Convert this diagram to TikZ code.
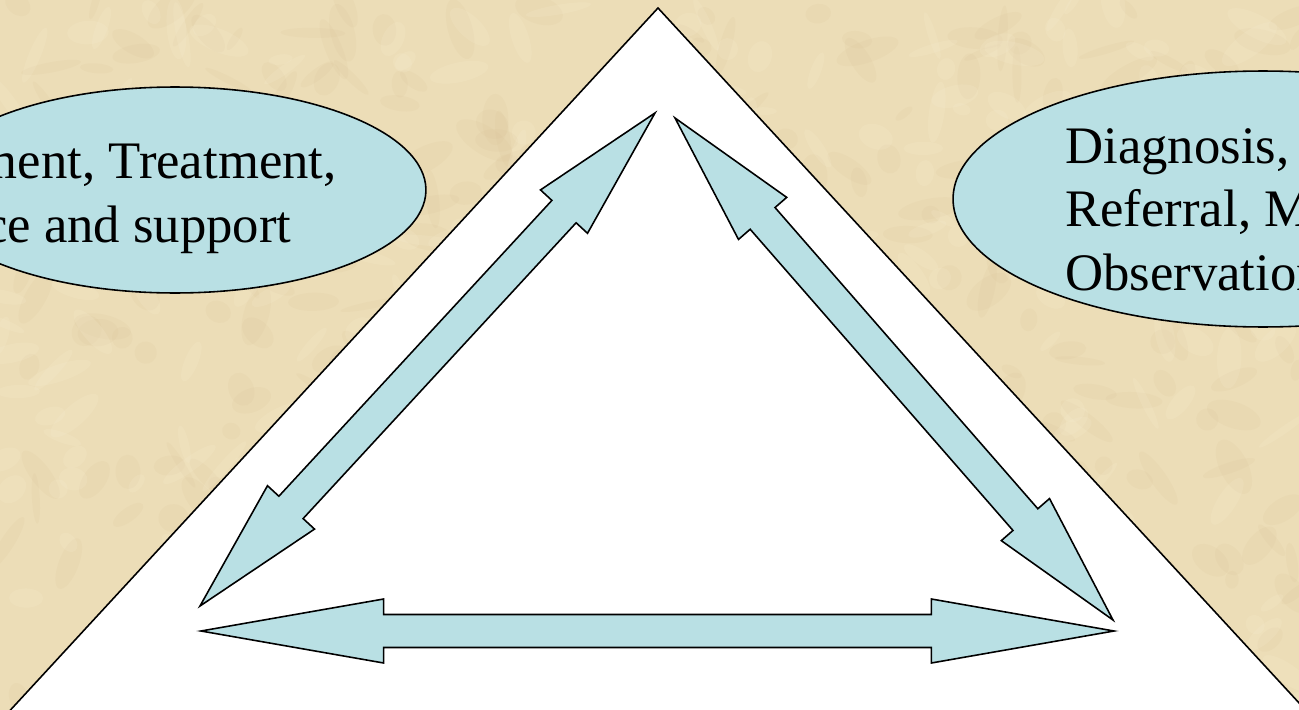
\documentclass[tikz,border=0pt]{standalone}
\usepackage{fontspec}
\setmainfont{Liberation Serif}
\usetikzlibrary{calc, shapes.geometric}

\definecolor{paper}{RGB}{236,221,183}
\definecolor{paperdark}{RGB}{214,190,146}
\definecolor{paperlight}{RGB}{248,238,210}
\definecolor{pale}{RGB}{185,224,228}

\tikzset{
  twoway/.style={draw=black, line width=0.9pt, fill=pale},
  bubble/.style={draw=black, line width=0.9pt, fill=pale, ellipse, inner sep=0pt},
  bubbletext/.style={font=\fontsize{30}{36}\selectfont, inner sep=0pt}
}

\begin{document}
\begin{tikzpicture}[x=0.02cm, y=-0.02cm]
  \def\hw{0.64cm} % half width of a head
  \def\sw{0.33cm} % half width of a shaft
  \useasboundingbox (0,0) rectangle (1299,710);
  \clip (0,0) rectangle (1299,710);
  % parchment
  \fill[paper] (0,0) rectangle (1299,710);
  \pgfmathsetseed{42}
  \foreach \i in {1,...,400} {
    \pgfmathsetmacro\px{rnd*1299}
    \pgfmathsetmacro\py{rnd*710}
    \pgfmathsetmacro\rx{5+rnd*14}
    \pgfmathsetmacro\ry{2+rnd*6}
    \pgfmathsetmacro\ang{rnd*180}
    \fill[paperdark, opacity=0.12, rotate around={\ang:(\px,\py)}] (\px,\py) ellipse ({\rx pt} and {\ry pt});
  }
  \foreach \i in {1,...,300} {
    \pgfmathsetmacro\px{rnd*1299}
    \pgfmathsetmacro\py{rnd*710}
    \pgfmathsetmacro\rx{5+rnd*14}
    \pgfmathsetmacro\ry{2+rnd*5}
    \pgfmathsetmacro\ang{rnd*180}
    \fill[paperlight, opacity=0.18, rotate around={\ang:(\px,\py)}] (\px,\py) ellipse ({\rx pt} and {\ry pt});
  }
  % big triangle
  \coordinate (apex) at (658,8);
  \draw[line width=0.9pt, fill=white] (apex) -- (-8,730) -- (1324,730) -- cycle;
  % bubbles
  \node[bubble, minimum width=10.04cm, minimum height=4.12cm] (care) at (175,190) {};
  \node[bubbletext, align=center, anchor=base] (caretext) at (85,242) {Assessment, Treatment,\\Advice and support};
  \node[bubble, minimum width=12.4cm, minimum height=5.12cm] (diag) at (1263,199) {};
  \node[bubbletext, align=left, anchor=base west] (diagtext) at (1065,290) {Diagnosis,\\Referral, Monitoring\\Observation};
  % double arrows
  \coordinate (lt) at (655,113);
  \coordinate (lb) at (200,606);
  \coordinate (rt) at (675,118);
  \coordinate (rb) at (1113,620);
  \coordinate (bl) at (201,631);
  \coordinate (br) at (1114,631);
  \foreach \s/\e in {lt/lb, rt/rb, bl/br}
    \draw[twoway] (\s) -- ($(\s)!.2!(\e)!\hw!90:(\e)$) -- ($(\s)!.2!(\e)!\sw!90:(\e)$)
      -- ($(\e)!.2!(\s)!\sw!-90:(\s)$) -- ($(\e)!.2!(\s)!\hw!-90:(\s)$) -- (\e)
      -- ($(\e)!.2!(\s)!\hw!90:(\s)$) -- ($(\e)!.2!(\s)!\sw!90:(\s)$)
      -- ($(\s)!.2!(\e)!\sw!-90:(\e)$) -- ($(\s)!.2!(\e)!\hw!-90:(\e)$) -- cycle;
\end{tikzpicture}
\end{document}
